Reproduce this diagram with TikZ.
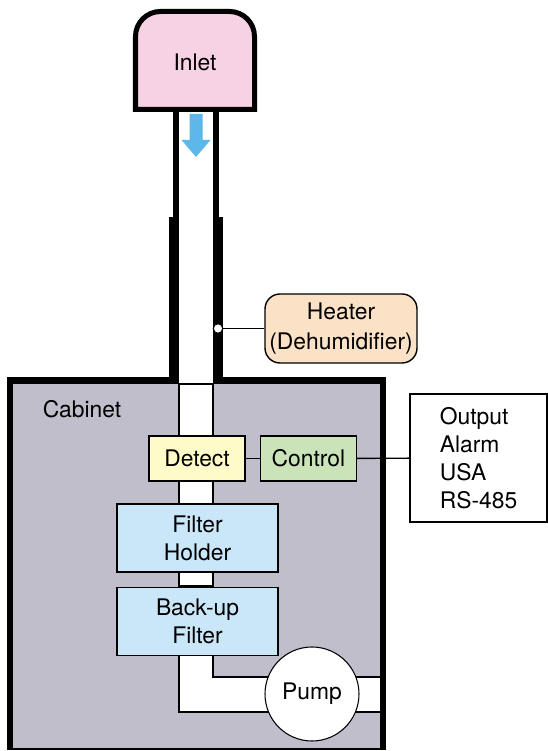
\documentclass[tikz,border=0pt]{standalone}
\usepackage{fontspec}
\setsansfont{TeX Gyre Heros}
\usepackage{xcolor}
\definecolor{inletpink}{HTML}{F7D1E4}
\definecolor{cabinetgray}{HTML}{C1BECB}
\definecolor{heaterpeach}{HTML}{FBE1C5}
\definecolor{detectyellow}{HTML}{FEFBC9}
\definecolor{controlgreen}{HTML}{CBE3B9}
\definecolor{filterblue}{HTML}{C9E7F8}
\definecolor{flowblue}{HTML}{5DB7E9}
\usepackage{tikz}
\usetikzlibrary{arrows.meta, positioning, calc}

\begin{document}
\begin{tikzpicture}[
  every node/.style={font=\sffamily\fontsize{13}{16}\selectfont},
  unitbox/.style={draw, line width=0.8pt, minimum width=1.92cm,
                  minimum height=0.90cm, inner sep=0pt},
  filterbox/.style={draw, line width=0.8pt, fill=filterblue, align=center,
                    minimum width=3.22cm, minimum height=1.36cm, inner sep=0pt},
  pipe/.style={fill=white, draw=black, line width=0.6pt}
]
  \useasboundingbox (0,0) rectangle (10.94,15.02);

  % Cabinet
  \fill[cabinetgray] (0.26,0.04) rectangle (7.60,7.34);
  \node (cabinet) at (1.64,6.84) {Cabinet};

  % Pipe inside the cabinet
  \filldraw[pipe] (3.58,6.30) rectangle (4.26,7.34);
  \filldraw[pipe] (3.58,4.94) rectangle (4.26,5.40);
  \filldraw[pipe] (3.58,3.30) rectangle (4.26,3.58);
  \fill[white] (3.58,1.96) -- (3.58,0.78) -- (7.60,0.78) -- (7.60,1.48)
               -- (4.26,1.48) -- (4.26,1.96) -- cycle;
  \draw[line width=0.6pt] (3.58,1.96) -- (3.58,0.78) -- (7.60,0.78);
  \draw[line width=0.6pt] (4.26,1.96) -- (4.26,1.48) -- (7.60,1.48);

  % Walls
  \draw[line width=0.6pt] (0.14,0.04) -- (7.72,0.04);
  \fill (0.14,0.04) rectangle (0.26,7.48);
  \fill (7.60,0.04) rectangle (7.72,7.48);
  \fill (0.14,7.34) rectangle (3.58,7.48);
  \fill (4.26,7.34) rectangle (7.72,7.48);
  \fill (3.38,7.34) rectangle (3.58,10.68);
  \fill (4.26,7.34) rectangle (4.46,10.68);
  \fill (3.46,10.68) rectangle (3.58,12.80);
  \fill (4.26,10.68) rectangle (4.38,12.80);

  % Inlet
  \filldraw[fill=inletpink, line width=2.85pt] (2.71,12.83) -- (2.71,14.29)
    arc[start angle=180, end angle=90, radius=0.5] -- (4.59,14.79)
    arc[start angle=90, end angle=0, radius=0.5] -- (5.09,12.83) -- cycle;
  \node (inlet) at (3.90,13.78) {Inlet};
  \fill[flowblue] (3.79,12.74) -- (4.05,12.74) -- (4.05,12.22) -- (4.21,12.22)
    -- (3.92,11.88) -- (3.63,12.22) -- (3.79,12.22) -- cycle;

  % Units
  \node[unitbox, fill=detectyellow] (detect) at (3.94,5.85) {Detect};
  \node[unitbox, fill=controlgreen, right=0.28cm of detect] (control) {Control};
  \node[filterbox] (holder) at (3.95,4.26) {Filter\\Holder};
  \node[filterbox, below=0.28cm of holder] (backup) {Back-up\\Filter};
  \node[circle, draw, fill=white, line width=0.6pt, minimum size=1.88cm,
        inner sep=0pt] (pump) at (6.24,1.14) {Pump};

  % Heater
  \node[draw, fill=heaterpeach, rounded corners=0.3cm, line width=0.8pt, align=center,
        minimum width=3.04cm, minimum height=1.38cm, inner sep=0pt] (heater)
        at (6.82,8.45) {Heater\\[1pt](Dehumidifier)};
  \node[circle, draw, fill=white, line width=0.6pt, minimum size=0.19cm,
        inner sep=0pt] (tap) at (4.36,8.45) {};
  \draw[line width=0.8pt] (tap) -- (heater);

  % Output box
  \node[draw, fill=white, line width=0.6pt, align=left, minimum width=2.74cm,
        minimum height=2.56cm, inner sep=0pt] (output) at (9.57,5.86)
        {Output\\Alarm\\USA\\RS-485};
  \draw[line width=0.8pt] (detect) -- (control);
  \draw[line width=0.8pt] (control) -- (output);
\end{tikzpicture}
\end{document}
